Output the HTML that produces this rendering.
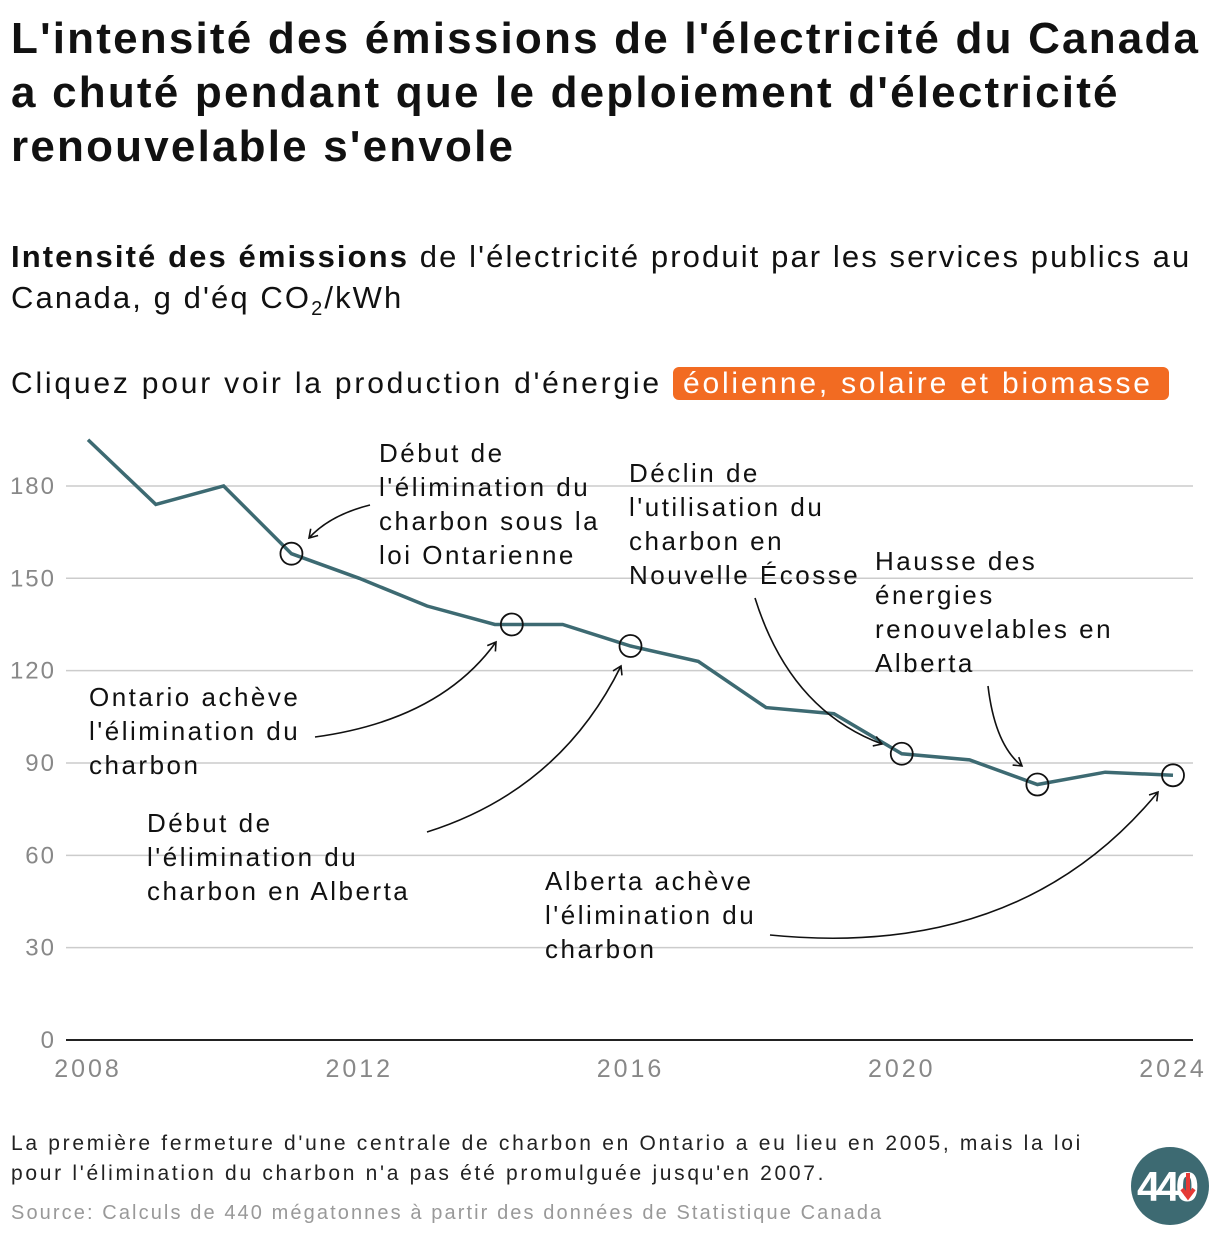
<!DOCTYPE html>
<html><head><meta charset="utf-8"><style>
body{margin:0;width:1220px;height:1238px;background:#fff;font-family:"Liberation Sans",sans-serif;color:#111;position:relative;overflow:hidden}
.t{position:absolute;margin:0;white-space:nowrap}
</style></head><body>
<h1 class="t" style="left:11px;top:12px;font-size:44px;line-height:54px;font-weight:bold;letter-spacing:2.2px">L'intensité des émissions de l'électricité du Canada<br>a chuté pendant que le deploiement d'électricité<br>renouvelable s'envole</h1>
<div class="t" style="left:11px;top:236px;font-size:31px;line-height:41px;letter-spacing:2.1px"><b>Intensité des émissions</b> de l'électricité produit par les services publics au<br>Canada, g d'éq CO<sub style="font-size:20px">2</sub>/kWh</div>
<div class="t" style="left:11px;top:364px;font-size:30px;line-height:40px;letter-spacing:2.8px">Cliquez pour voir la production d'énergie <span style="background:#f26b22;color:#fff;border-radius:6px;padding:0 16px 0 10px;cursor:pointer">éolienne, solaire et biomasse</span></div>
<svg id="chart" width="1220" height="1238" style="position:absolute;left:0;top:0" font-family="Liberation Sans, sans-serif"></svg>
<div class="t" style="left:11px;top:1129px;font-size:21px;line-height:30px;color:#222;letter-spacing:2.7px">La première fermeture d'une centrale de charbon en Ontario a eu lieu en 2005, mais la loi<br>pour l'élimination du charbon n'a pas été promulguée jusqu'en 2007.</div>
<div class="t" style="left:11px;top:1199px;font-size:20px;line-height:28px;color:#999;letter-spacing:2.1px">Source: Calculs de 440 mégatonnes à partir des données de Statistique Canada</div>
<svg width="80" height="80" style="position:absolute;left:1130px;top:1146px" font-family="Liberation Sans, sans-serif">
<circle cx="40" cy="40" r="39" fill="#3d6a72"/>
<text x="36" y="55" text-anchor="middle" font-size="42" font-weight="bold" fill="#fff" letter-spacing="-4">440</text>
<path d="M58,27 L58,48 M52,43 L58,51 L64,43" stroke="#e53935" stroke-width="4" fill="none"/>
</svg>
<script>
const years=[2008,2009,2010,2011,2012,2013,2014,2015,2016,2017,2018,2019,2020,2021,2022,2023,2024];
const values=[195,174,180,158,150,141,135,135,128,123,108,106,93,91,83,87,86];
const yTicks=[0,30,60,90,120,150,180];
const xTicks=[2008,2012,2016,2020,2024];
const markerYears=[2011,2014.25,2016,2020,2022,2024];
const markerValues=[158,135,128,93,83,86];
const ns="http://www.w3.org/2000/svg";
const svg=document.getElementById('chart');
const X=y=>88+(y-2008)*(1085/16);
const Y=v=>1040-v*3.078;
function mk(t,a){const e=document.createElementNS(ns,t);for(const k in a)e.setAttribute(k,a[k]);svg.appendChild(e);return e;}
yTicks.forEach(v=>{
  const l=mk('line',{x1:66,x2:1193,y1:Y(v),y2:Y(v),stroke:v===0?'#222':'#ccc','stroke-width':v===0?2:1.5});
  
  
  const t=mk('text',{x:56,y:Y(v)+8,'text-anchor':'end','font-size':24,fill:'#888','letter-spacing':2});t.textContent=v;
  
  
});
xTicks.forEach(y=>{
  const t=mk('text',{x:X(y),y:1077,'text-anchor':'middle','font-size':25,fill:'#888','letter-spacing':3});t.textContent=y;
  
  
});
const p=mk('path',{d:years.map((y,i)=>(i?'L':'M')+X(y)+','+Y(values[i])).join(''),fill:'none',stroke:'#3d6a72','stroke-width':3.5});


markerYears.forEach((y,i)=>{
  const c=mk('circle',{cx:X(y),cy:Y(markerValues[i]),r:11,fill:'none',stroke:'#111','stroke-width':1.8});
  
  
});
mk('defs',{}).innerHTML='<marker id="ah" markerWidth="12" markerHeight="12" refX="9" refY="6" orient="auto" markerUnits="userSpaceOnUse"><path d="M1,1 L9,6 L1,11" fill="none" stroke="#111" stroke-width="1.6"/></marker>';
const arrows=['M370,505 Q330,515 309,538','M315,737 Q440,720 496,642','M427,832 Q560,790 621,666','M755,598 Q790,710 882,744','M988,686 Q995,745 1022,766','M770,935 Q1020,960 1158,792'];
arrows.forEach(d=>{const a=mk('path',{d:d,fill:'none',stroke:'#111','stroke-width':1.6,'marker-end':'url(#ah)'});
  
  });
const notes=[[379,462,["Début de","l'élimination du","charbon sous la","loi Ontarienne"]],[629,482,["Déclin de","l'utilisation du","charbon en","Nouvelle Écosse"]],[875,570,["Hausse des","énergies","renouvelables en","Alberta"]],[89,706,["Ontario achève","l'élimination du","charbon"]],[147,832,["Début de","l'élimination du","charbon en Alberta"]],[545,890,["Alberta achève","l'élimination du","charbon"]]];
notes.forEach(n=>{const t=mk('text',{x:n[0],y:n[1],'font-size':26,fill:'#111','letter-spacing':2.5});
  
  
  n[2].forEach((s,i)=>{const ts=document.createElementNS(ns,'tspan');ts.setAttribute('x',n[0]);ts.setAttribute('dy',i?34:0);ts.textContent=s;t.appendChild(ts);});});
</script>
</body></html>
